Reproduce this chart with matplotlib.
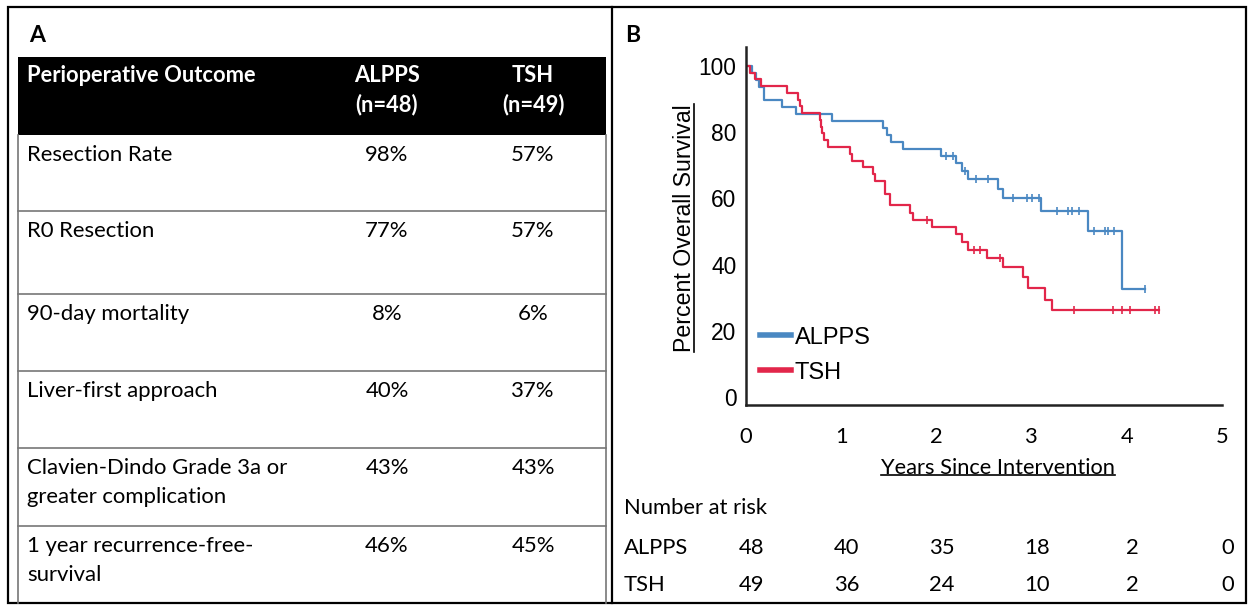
import matplotlib
matplotlib.use('Agg')
import matplotlib.pyplot as plt
import numpy as np
from matplotlib.lines import Line2D
from matplotlib.patches import Rectangle
from matplotlib.transforms import blended_transform_factory, IdentityTransform

# ---------------- data ----------------
outcomes = ["Resection Rate", "R0 Resection", "90-day mortality", "Liver-first approach",
            "Clavien-Dindo Grade 3a or\ngreater complication", "1 year recurrence-free-\nsurvival"]
alpps_pct = ["98%", "77%", "8%", "40%", "43%", "46%"]
tsh_pct = ["57%", "57%", "6%", "37%", "43%", "45%"]

alpps_times = [0.06, 0.10, 0.14, 0.19, 0.38, 0.53, 0.90, 1.44, 1.48, 1.52, 1.65, 2.05, 2.21, 2.27, 2.33, 2.65, 2.70, 3.10, 3.59, 3.95]
alpps_surv = [97.9, 95.8, 93.7, 89.6, 87.5, 85.4, 83.3, 81.2, 79.1, 77.0, 75.0, 72.8, 70.6, 68.2, 65.7, 62.8, 60.2, 56.3, 50.0, 32.7]
alpps_cens = [2.10, 2.17, 2.30, 2.42, 2.54, 2.80, 2.95, 3.00, 3.08, 3.27, 3.38, 3.42, 3.50, 3.66, 3.77, 3.80, 3.87, 4.19]
alpps_end = 4.19

tsh_times = [0.04, 0.09, 0.16, 0.43, 0.55, 0.57, 0.59, 0.78, 0.79, 0.80, 0.82, 0.86, 1.09, 1.11, 1.23, 1.33, 1.35, 1.46, 1.51,
             1.72, 1.75, 1.95, 2.21, 2.27, 2.33, 2.53, 2.70, 2.91, 2.96, 3.14, 3.21]
tsh_surv = [98.0, 95.9, 93.9, 91.8, 89.8, 87.8, 85.7, 83.7, 81.6, 79.6, 77.6, 75.5, 73.5, 71.4, 69.4, 67.3, 65.3, 61.2, 58.0,
            55.6, 53.5, 51.4, 49.1, 46.8, 44.4, 41.9, 39.2, 36.3, 33.0, 29.3, 26.3]
tsh_cens = [1.90, 2.40, 2.46, 2.67, 3.45, 3.86, 3.95, 4.03, 4.30, 4.34]
tsh_end = 4.34

risk_years = [0, 1, 2, 3, 4, 5]
alpps_risk = [48, 40, 35, 18, 2, 0]
tsh_risk = [49, 36, 24, 10, 2, 0]

BLUE = "#4a88c2"
RED = "#e2264a"

CAL = "Lato"
ARIAL = "Liberation Sans"

# ---------------- figure ----------------
W, H = 1249, 606
fig = plt.figure(figsize=(W / 100, H / 100), dpi=100)
bg = fig.add_axes([0, 0, 1, 1])
bg.set_xlim(0, W)
bg.set_ylim(H, 0)
bg.axis('off')
renderer = fig.canvas.get_renderer()


def fit_size(s, target, family, weight='normal'):
    t = fig.text(0, 0, s, fontsize=10, family=family, weight=weight)
    w = t.get_window_extent(renderer).width
    t.remove()
    return 10 * target / w


reg = fit_size("Resection Rate", 146, CAL)
bold = fit_size("Perioperative Outcome", 229, CAL, 'bold')
axfs = fit_size("Years Since Intervention", 235, CAL)
riskfs = fit_size("Number at risk", 143, CAL)
yfs = fit_size("Percent Overall Survival", 249, ARIAL)
tickfs = fit_size("100", 38, ARIAL)
legfs = fit_size("ALPPS", 76, ARIAL)

# borders
bg.add_patch(Rectangle((8, 7), 1238, 596, fill=False, lw=1.6, ec='black'))
bg.plot([612, 612], [7, 603], color='black', lw=1.6)

# ---------------- panel A : table ----------------
bg.text(29, 35, "A", fontsize=bold * 1.05, family=CAL, weight='bold', va='center', ha='left')
bg.add_patch(Rectangle((18, 57), 588, 78, color='black', lw=0))
bg.plot([18, 18], [135, 603], color='#777777', lw=1.2)
bg.plot([606, 606], [135, 603], color='#777777', lw=1.2)
col_label_x, col_a_x, col_t_x = 27, 387, 533
bg.text(col_label_x, 76, "Perioperative Outcome", color='white', fontsize=bold, family=CAL, weight='bold', va='center')
bg.text(col_a_x, 76, "ALPPS", color='white', fontsize=bold, family=CAL, weight='bold', va='center', ha='center')
bg.text(col_a_x, 105, "(n=48)", color='white', fontsize=bold, family=CAL, weight='bold', va='center', ha='center')
bg.text(col_t_x, 76, "TSH", color='white', fontsize=bold, family=CAL, weight='bold', va='center', ha='center')
bg.text(col_t_x, 105, "(n=49)", color='white', fontsize=bold, family=CAL, weight='bold', va='center', ha='center')

row_tops = [135, 211, 294, 371, 448, 526]
for i, top in enumerate(row_tops):
    if i > 0:
        bg.plot([18, 606], [top, top], color='#777777', lw=1.2)
    y1 = top + 20
    for k, line in enumerate(outcomes[i].split("\n")):
        bg.text(col_label_x, y1 + 29 * k, line, fontsize=reg, family=CAL, va='center', ha='left')
    bg.text(col_a_x, y1, alpps_pct[i], fontsize=reg, family=CAL, va='center', ha='center')
    bg.text(col_t_x, y1, tsh_pct[i], fontsize=reg, family=CAL, va='center', ha='center')

# ---------------- panel B : KM plot ----------------
bg.text(625, 35, "B", fontsize=bold * 1.05, family=CAL, weight='bold', va='center', ha='left')

ax = fig.add_axes([746 / W, (H - 405) / H, 476 / W, 358 / H])
ax.set_xlim(0, 5)
ax.set_ylim(-2.4, 105.7)
ax.patch.set_alpha(0)
for s in ['top', 'right']:
    ax.spines[s].set_visible(False)
for s in ['left', 'bottom']:
    ax.spines[s].set_linewidth(1.8)
    ax.spines[s].set_color('#222222')
ax.set_xticks(risk_years)
ax.set_yticks([0, 20, 40, 60, 80, 100])
ax.tick_params(axis='both', length=0)
ax.tick_params(axis='x', pad=16, labelsize=axfs)
ax.tick_params(axis='y', pad=7, labelsize=tickfs)
for lab in ax.get_xticklabels():
    lab.set_family(CAL)
for lab in ax.get_yticklabels():
    lab.set_family(ARIAL)


def km(times, surv, cens, end, color, label):
    xs = [0] + list(times) + [end]
    ys = [100] + list(surv) + [surv[-1]]
    ax.step(xs, ys, where='post', color=color, lw=1.6, label=label)
    idx = np.searchsorted(np.array(times), np.array(cens), side='right')
    full = np.array([100] + list(surv))
    ax.plot(cens, full[idx], ls='none', marker='|', ms=6, mew=1.2, color=color)


km(alpps_times, alpps_surv, alpps_cens, alpps_end, BLUE, "ALPPS")
km(tsh_times, tsh_surv, tsh_cens, tsh_end, RED, "TSH")

leg = ax.legend(loc='lower left', bbox_to_anchor=(0.03, 0.06), frameon=False, fontsize=legfs,
                handlelength=1.3, handletextpad=0.15, labelspacing=0.55, borderaxespad=0, borderpad=0)
for t in leg.get_texts():
    t.set_family(ARIAL)
for h in leg.legend_handles:
    h.set_linewidth(4)

xl = bg.text(998, 468, "Years Since Intervention", fontsize=axfs, family=CAL, va='center', ha='center')
yl = bg.text(685, 228, "Percent Overall Survival", fontsize=yfs, family=ARIAL, va='center', ha='center',
             rotation=90)

# number at risk
bg.text(624, 508, "Number at risk", fontsize=riskfs, family=CAL, va='center', ha='left')
bg.text(624, 548, "ALPPS", fontsize=riskfs, family=CAL, va='center', ha='left')
bg.text(624, 585, "TSH", fontsize=riskfs, family=CAL, va='center', ha='left')
tr = blended_transform_factory(ax.transData, bg.transData)
for yr, a, t in zip(risk_years, alpps_risk, tsh_risk):
    bg.text(yr + 0.06, 548, str(a), fontsize=riskfs, family=CAL, va='center', ha='center', transform=tr)
    bg.text(yr + 0.06, 585, str(t), fontsize=riskfs, family=CAL, va='center', ha='center', transform=tr)

# underlines
fig.canvas.draw()
bb = xl.get_window_extent(renderer)
fig.add_artist(Line2D([bb.x0, bb.x1], [bb.y0 + 3, bb.y0 + 3], color='black', lw=1.2, transform=IdentityTransform()))
bb = yl.get_window_extent(renderer)
fig.add_artist(Line2D([bb.x1 - 2, bb.x1 - 2], [bb.y0, bb.y1], color='black', lw=1.2, transform=IdentityTransform()))

fig.savefig("out.png", dpi=100)
